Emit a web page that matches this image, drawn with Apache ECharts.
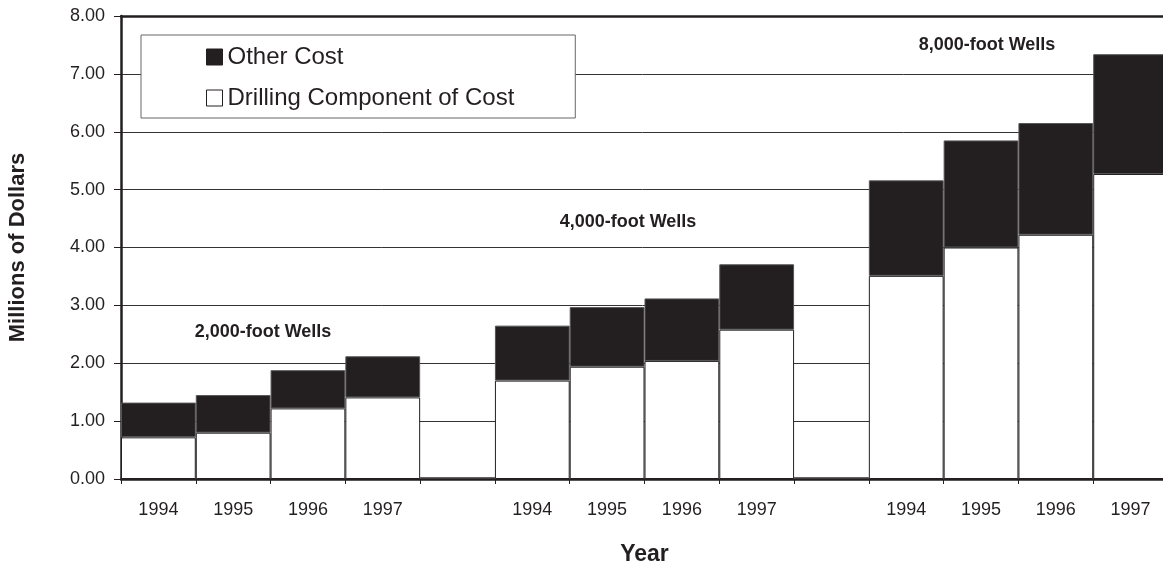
<!DOCTYPE html>
<html>
<head>
<meta charset="utf-8">
<script src="https://cdn.jsdelivr.net/npm/echarts@6/dist/echarts.min.js"></script>
<style>
    html, body { margin: 0; padding: 0; background: #fff; }
    #chart { width: 1163px; height: 562px; }
</style>
</head>
<body>
<div id="chart"></div>
<script>
// Chart data
// ------------------------------

var years = ['1994', '1995', '1996', '1997', '', '1994', '1995', '1996', '1997', '', '1994', '1995', '1996', '1997'];

// drilling component of cost (millions of dollars)
var drilling = [0.72, 0.80, 1.22, 1.41, 0.02, 1.70, 1.94, 2.04, 2.58, 0.02, 3.51, 4.00, 4.22, 5.27];

// other cost, stacked on top of drilling
var otherCost = [0.60, 0.65, 0.66, 0.71, 0, 0.95, 1.03, 1.08, 1.13, 0, 1.65, 1.85, 1.93, 2.07];

var groupLabels = ['2,000-foot Wells', '4,000-foot Wells', '8,000-foot Wells'];

var ink = '#231f20';
var font = 'Liberation Sans, Arial, sans-serif';


// Initialize chart
// ------------------------------

var chart = echarts.init(document.getElementById('chart'));

var options = {
    animation: false,
    textStyle: { fontFamily: font, color: ink },

    // plot runs a few pixels past the right edge of the picture
    grid: { left: 121, right: -5, top: 16, bottom: 83, outerBoundsMode: 'none' },

    legend: {
        orient: 'vertical',
        left: 141,
        top: 35,
        padding: [10, 61, 8, 65],
        itemGap: 17,
        itemWidth: 16,
        itemHeight: 16,
        backgroundColor: '#fff',
        borderColor: '#666',
        borderWidth: 1,
        borderRadius: 0,
        textStyle: { fontSize: 24, color: ink, fontFamily: font, padding: [0, 0, 0, 0] },
        data: [
            { name: 'Other Cost', icon: 'rect', itemStyle: { color: ink, borderColor: ink, borderWidth: 1 } },
            { name: 'Drilling Component of Cost', icon: 'rect', itemStyle: { color: '#fff', borderColor: ink, borderWidth: 1 } }
        ]
    },

    xAxis: [{
        type: 'category',
        data: years,
        name: 'Year',
        nameLocation: 'middle',
        nameGap: 64,
        nameTextStyle: { fontSize: 23, fontWeight: 'bold', color: ink },
        axisLine: { lineStyle: { color: ink, width: 2.5 } },
        axisTick: { show: true, length: 5, lineStyle: { color: ink, width: 1 } },
        axisLabel: { fontSize: 18, color: ink, margin: 22, interval: 0 },
        splitLine: { show: false }
    }, {
        // top frame line
        type: 'category',
        position: 'top',
        data: years,
        axisLine: { lineStyle: { color: ink, width: 2.5 } },
        axisTick: { show: false },
        axisLabel: { show: false }
    }],

    yAxis: {
        type: 'value',
        min: 0,
        max: 8,
        interval: 1,
        name: 'Millions of Dollars',
        nameLocation: 'middle',
        nameGap: 92,
        nameRotate: 90,
        nameTextStyle: { fontSize: 22, fontWeight: 'bold', color: ink },
        axisLine: { show: true, lineStyle: { color: ink, width: 2.5 } },
        axisTick: { show: true, length: 7, lineStyle: { color: ink, width: 1 } },
        axisLabel: {
            fontSize: 18, color: ink, margin: 16,
            formatter: function (v) { return v.toFixed(2); }
        },
        splitLine: { show: true, lineStyle: { color: '#333', width: 1 } }
    },

    graphic: [
        { type: 'text', x: 263, y: 332, style: { text: groupLabels[0], font: 'bold 18px ' + font, fill: ink, align: 'center', verticalAlign: 'middle' } },
        { type: 'text', x: 628, y: 222, style: { text: groupLabels[1], font: 'bold 18px ' + font, fill: ink, align: 'center', verticalAlign: 'middle' } },
        { type: 'text', x: 987, y: 45, style: { text: groupLabels[2], font: 'bold 18px ' + font, fill: ink, align: 'center', verticalAlign: 'middle' } }
    ],

    series: [{
        name: 'Drilling Component of Cost',
        type: 'bar',
        stack: 'cost',
        barCategoryGap: '0%',
        itemStyle: { color: '#fff', borderColor: ink, borderWidth: 1 },
        data: drilling
    }, {
        name: 'Other Cost',
        type: 'bar',
        stack: 'cost',
        barCategoryGap: '0%',
        itemStyle: { color: ink, borderColor: '#555', borderWidth: 1 },
        data: otherCost
    }]
};

chart.setOption(options);
</script>
</body>
</html>
